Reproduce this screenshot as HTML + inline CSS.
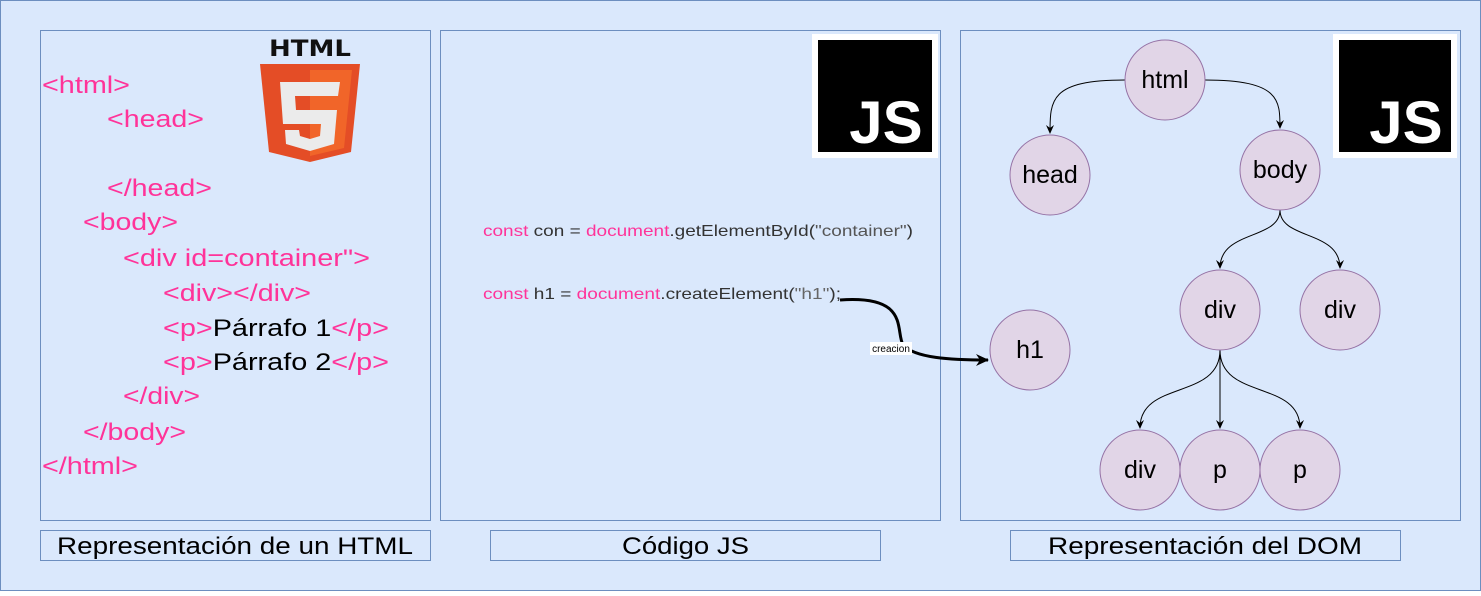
<!DOCTYPE html><html><head><style>body{margin:0;background:#fff}</style></head><body>
<svg width="1481" height="591" xmlns="http://www.w3.org/2000/svg" font-family="Liberation Sans, sans-serif">
<rect x="0.5" y="0.5" width="1480" height="590" fill="#dae8fc" stroke="#6c8ebf"/>
<g fill="#dae8fc" stroke="#6c8ebf">
<rect x="40.5" y="30.5" width="390" height="490"/><rect x="440.5" y="30.5" width="500" height="490"/><rect x="960.5" y="30.5" width="500" height="490"/>
<rect x="40.5" y="530.5" width="390" height="30"/><rect x="490.5" y="530.5" width="390" height="30"/><rect x="1010.5" y="530.5" width="390" height="30"/>
</g>
<g font-size="24" fill="#000" lengthAdjust="spacingAndGlyphs">
<text x="57" y="554" textLength="356" lengthAdjust="spacingAndGlyphs">Representación de un HTML</text>
<text x="622" y="554" textLength="127" lengthAdjust="spacingAndGlyphs">Código JS</text>
<text x="1048" y="554" textLength="314" lengthAdjust="spacingAndGlyphs">Representación del DOM</text>
</g>
<g font-size="24" fill="#ff3399">
<text x="42" y="93" textLength="88" lengthAdjust="spacingAndGlyphs">&lt;html&gt;</text>
<text x="107" y="127" textLength="97" lengthAdjust="spacingAndGlyphs">&lt;head&gt;</text>
<text x="107" y="196" textLength="105" lengthAdjust="spacingAndGlyphs">&lt;/head&gt;</text>
<text x="83" y="230" textLength="95" lengthAdjust="spacingAndGlyphs">&lt;body&gt;</text>
<text x="123" y="266" textLength="247" lengthAdjust="spacingAndGlyphs">&lt;div id=container"&gt;</text>
<text x="163" y="301" textLength="148" lengthAdjust="spacingAndGlyphs">&lt;div&gt;&lt;/div&gt;</text>
<text x="163" y="336" textLength="226" lengthAdjust="spacingAndGlyphs">&lt;p&gt;<tspan fill="#000">Párrafo 1</tspan>&lt;/p&gt;</text>
<text x="163" y="370" textLength="226" lengthAdjust="spacingAndGlyphs">&lt;p&gt;<tspan fill="#000">Párrafo 2</tspan>&lt;/p&gt;</text>
<text x="123" y="404" textLength="77" lengthAdjust="spacingAndGlyphs">&lt;/div&gt;</text>
<text x="83" y="440" textLength="103" lengthAdjust="spacingAndGlyphs">&lt;/body&gt;</text>
<text x="42" y="474" textLength="96" lengthAdjust="spacingAndGlyphs">&lt;/html&gt;</text>
</g>
<text x="310" y="56" font-size="22" font-weight="bold" text-anchor="middle" fill="#111" font-family="DejaVu Sans, sans-serif" textLength="82" lengthAdjust="spacingAndGlyphs">HTML</text>
<path d="M260 64 L360 64 L351 152 L310 162 L269 152 Z" fill="#e44d26"/>
<path d="M310 70 L352 70 L344 148 L310 156 Z" fill="#f16529"/>
<path d="M280 82 L340 82 L338 96 L295 96 L296 110 L337 110 L334 144 L310 151 L286 144 L285 130 L299 130 L300 136 L310 139 L320 136 L321 124 L283 124 Z" fill="#ebebeb"/>
<g font-size="16">
<text x="483" y="236" fill="#333" textLength="430" lengthAdjust="spacingAndGlyphs"><tspan fill="#ff3399">const</tspan> con = <tspan fill="#ff3399">document</tspan>.getElementById(<tspan fill="#555">"container"</tspan>)</text>
<text x="483" y="299" fill="#333" textLength="358" lengthAdjust="spacingAndGlyphs"><tspan fill="#ff3399">const</tspan> h1 = <tspan fill="#ff3399">document</tspan>.createElement(<tspan fill="#666">"h1"</tspan>);</text>
</g>
<g>
<rect x="812" y="34" width="126" height="124" fill="#fff"/><rect x="818" y="40" width="114" height="112" fill="#000"/>
<text x="886" y="143" font-size="60" font-weight="bold" fill="#fff" text-anchor="middle">JS</text>
<rect x="1333" y="34" width="124" height="124" fill="#fff"/><rect x="1339" y="40" width="112" height="112" fill="#000"/>
<text x="1406" y="143" font-size="60" font-weight="bold" fill="#fff" text-anchor="middle">JS</text>
</g>
<defs><marker id="a" markerWidth="10" markerHeight="10" refX="8" refY="5" orient="auto" markerUnits="userSpaceOnUse"><path d="M0 1 L9 5 L0 9 L3 5Z" fill="#000"/></marker>
<marker id="b" markerWidth="14" markerHeight="14" refX="12" refY="7" orient="auto" markerUnits="userSpaceOnUse"><path d="M0 1 L13 7 L0 13 L4 7Z" fill="#000"/></marker></defs>
<g fill="none" stroke="#000" stroke-width="1">
<path d="M1125 80 C1050 80 1050 100 1050 133" marker-end="url(#a)"/>
<path d="M1205 80 C1280 80 1280 100 1280 128" marker-end="url(#a)"/>
<path d="M1280 210 C1280 240 1220 230 1220 268" marker-end="url(#a)"/>
<path d="M1280 210 C1280 240 1340 230 1340 268" marker-end="url(#a)"/>
<path d="M1220 350 C1220 400 1140 380 1140 428" marker-end="url(#a)"/>
<path d="M1220 350 L1220 428" marker-end="url(#a)"/>
<path d="M1220 350 C1220 400 1300 380 1300 428" marker-end="url(#a)"/>
<path d="M840 300 C910 295 895 330 903 345 C915 358 950 360 988 360" stroke-width="3" marker-end="url(#b)"/>
</g>
<rect x="870" y="342" width="42" height="13" fill="#fff"/>
<text x="891" y="352" font-size="10" text-anchor="middle">creacion</text>
<g fill="#e1d5e7" stroke="#9673a6">
<circle cx="1165" cy="80" r="40"/><circle cx="1050" cy="175" r="40"/><circle cx="1280" cy="170" r="40"/>
<circle cx="1220" cy="310" r="40"/><circle cx="1340" cy="310" r="40"/><circle cx="1030" cy="350" r="40"/>
<circle cx="1140" cy="470" r="40"/><circle cx="1220" cy="470" r="40"/><circle cx="1300" cy="470" r="40"/>
</g>
<g font-size="25" text-anchor="middle" fill="#000">
<text x="1165" y="88">html</text><text x="1050" y="183">head</text><text x="1280" y="178">body</text>
<text x="1220" y="318">div</text><text x="1340" y="318">div</text><text x="1030" y="358">h1</text>
<text x="1140" y="478">div</text><text x="1220" y="478">p</text><text x="1300" y="478">p</text>
</g>
</svg>
</body></html>
